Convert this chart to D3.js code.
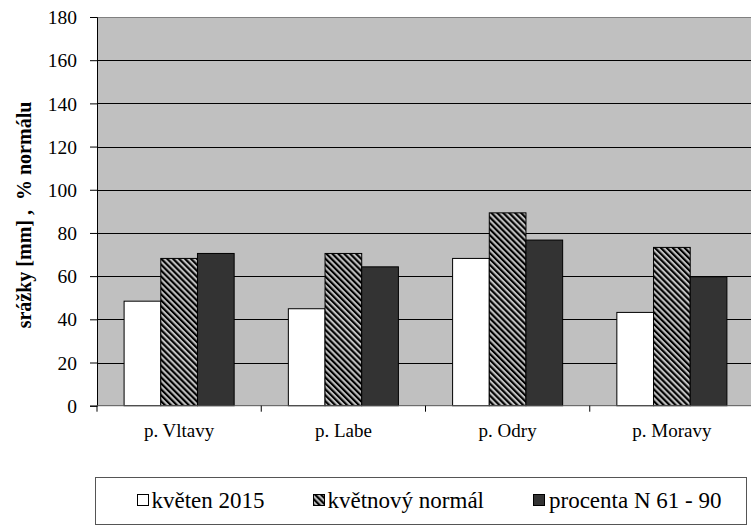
<!DOCTYPE html>
<html>
<head>
<meta charset="utf-8">
<script src="https://cdn.jsdelivr.net/npm/d3@7"></script>
<style>
  body { margin: 0; background: #fff; }
</style>
</head>
<body>
<div id="chart"></div>
<script>
// --------------------------------------
//  Data
// --------------------------------------

const basins = ["p. Vltavy", "p. Labe", "p. Odry", "p. Moravy"];
const seriesNames = ["květen 2015", "květnový normál", "procenta N 61 - 90"];
const may2015 = [48.4, 44.9, 68.2, 43.2];
const mayNormal = [68.2, 70.5, 89.3, 73.3];
const percentNormal = [70.5, 64.3, 76.7, 59.7];
const yTicks = [0, 20, 40, 60, 80, 100, 120, 140, 160, 180];

const seriesValues = [may2015, mayNormal, percentNormal];
const FONT = '"Liberation Serif"';

// --------------------------------------
//  Canvas
// --------------------------------------

const width = 751;
const height = 527;
const plot = {left: 97, right: 754, top: 17, bottom: 405.7};

const svg = d3.select("#chart")
  .append("svg")
    .attr("width", width)
    .attr("height", height);

// hatch pattern
const defs = svg.append("defs");
const hatch = defs.append("pattern")
    .attr("id", "hatch")
    .attr("patternUnits", "userSpaceOnUse")
    .attr("width", 4.2)
    .attr("height", 4.2)
    .attr("patternTransform", "rotate(-45)");
hatch.append("rect")
    .attr("width", 4.2).attr("height", 4.2)
    .attr("fill", "#c0c0c0");
hatch.append("rect")
    .attr("width", 2.1).attr("height", 4.2)
    .attr("fill", "#000");

const fills = ["#ffffff", "url(#hatch)", "#333333"];

// --------------------------------------
//  Scales
// --------------------------------------

const y = d3.scaleLinear()
    .domain([0, 180])
    .range([plot.bottom, plot.top]);

const x0 = d3.scaleBand()
    .domain(basins)
    .range([plot.left, plot.right])
    .padding(0);

const x1 = d3.scaleBand()
    .domain(seriesNames)
    .range([x0.bandwidth() * 0.165, x0.bandwidth() * 0.835])
    .padding(0);

// --------------------------------------
//  Plot area + grid
// --------------------------------------

svg.append("rect")
    .attr("x", plot.left)
    .attr("y", plot.top)
    .attr("width", plot.right - plot.left)
    .attr("height", plot.bottom - plot.top)
    .attr("fill", "#c0c0c0");

svg.append("line")
    .attr("x1", plot.left).attr("x2", plot.right)
    .attr("y1", plot.top + 0.5).attr("y2", plot.top + 0.5)
    .attr("stroke", "#808080");

svg.append("g")
  .selectAll("line")
  .data(yTicks.filter(d => d > 0 && d < 180))
  .join("line")
    .attr("x1", plot.left).attr("x2", plot.right)
    .attr("y1", d => Math.round(y(d)) + 0.5)
    .attr("y2", d => Math.round(y(d)) + 0.5)
    .attr("stroke", "#000")
    .attr("stroke-width", 1);

// --------------------------------------
//  Bars
// --------------------------------------

const groups = svg.append("g")
  .selectAll("g")
  .data(basins)
  .join("g")
    .attr("transform", d => `translate(${x0(d)}, 0)`);

groups.selectAll("rect")
  .data((d, i) => seriesNames.map((s, j) => ({series: s, value: seriesValues[j][i], idx: j})))
  .join("rect")
    .attr("x", d => x1(d.series))
    .attr("y", d => y(d.value))
    .attr("width", x1.bandwidth())
    .attr("height", d => y(0) - y(d.value))
    .attr("fill", d => fills[d.idx])
    .attr("stroke", "#000")
    .attr("stroke-width", 1);

// --------------------------------------
//  Axes
// --------------------------------------

const yAxis = svg.append("g")
    .attr("transform", `translate(${plot.left}, 0)`)
    .call(d3.axisLeft(y)
        .tickValues(yTicks)
        .tickSize(7)
        .tickPadding(13));
yAxis.select(".domain").attr("stroke", "#000");
yAxis.selectAll(".tick line").attr("stroke", "#000");
yAxis.selectAll("text")
    .style("font-family", FONT)
    .style("font-size", "19.5px")
    .attr("dy", "0.34em")
    .attr("fill", "#000");

const xAxis = svg.append("g")
    .attr("transform", `translate(0, ${plot.bottom})`);
xAxis.append("line")
    .attr("x1", plot.left).attr("x2", plot.right)
    .attr("y1", 0).attr("y2", 0)
    .attr("stroke", "#555");
xAxis.selectAll(".cat-tick")
  .data(basins)
  .join("line")
    .attr("class", "cat-tick")
    .attr("x1", d => x0(d)).attr("x2", d => x0(d))
    .attr("y1", 0).attr("y2", 6)
    .attr("stroke", "#000");
xAxis.selectAll(".cat-label")
  .data(basins)
  .join("text")
    .attr("class", "cat-label")
    .attr("x", d => x0(d) + x0.bandwidth() / 2)
    .attr("y", 31)
    .attr("text-anchor", "middle")
    .style("font-family", FONT)
    .style("font-size", "19px")
    .text(d => d);

// y title
svg.append("text")
    .attr("transform", "translate(31, 215) rotate(-90)")
    .attr("text-anchor", "middle")
    .style("font-family", FONT)
    .style("font-weight", "bold")
    .style("font-size", "20px")
    .style("white-space", "pre")
    .text("srážky [mm] ,  % normálu");

// --------------------------------------
//  Legend
// --------------------------------------

const legend = svg.append("g");
legend.append("rect")
    .attr("x", 95.5).attr("y", 477.5)
    .attr("width", 651).attr("height", 47)
    .attr("fill", "#fff")
    .attr("stroke", "#555");

const legendX = [137, 313, 533];
const items = legend.selectAll(".item")
  .data(seriesNames)
  .join("g")
    .attr("class", "item")
    .attr("transform", (d, i) => `translate(${legendX[i]}, 494)`);
items.append("rect")
    .attr("x", 0.5).attr("y", 0.5)
    .attr("width", 11).attr("height", 11)
    .attr("fill", (d, i) => fills[i])
    .attr("stroke", "#000");
items.append("text")
    .attr("x", (d, i) => i === 2 ? 16 : 14.5)
    .attr("y", 14)
    .style("font-family", FONT)
    .style("font-size", "23px")
    .text(d => d);
</script>
</body>
</html>
